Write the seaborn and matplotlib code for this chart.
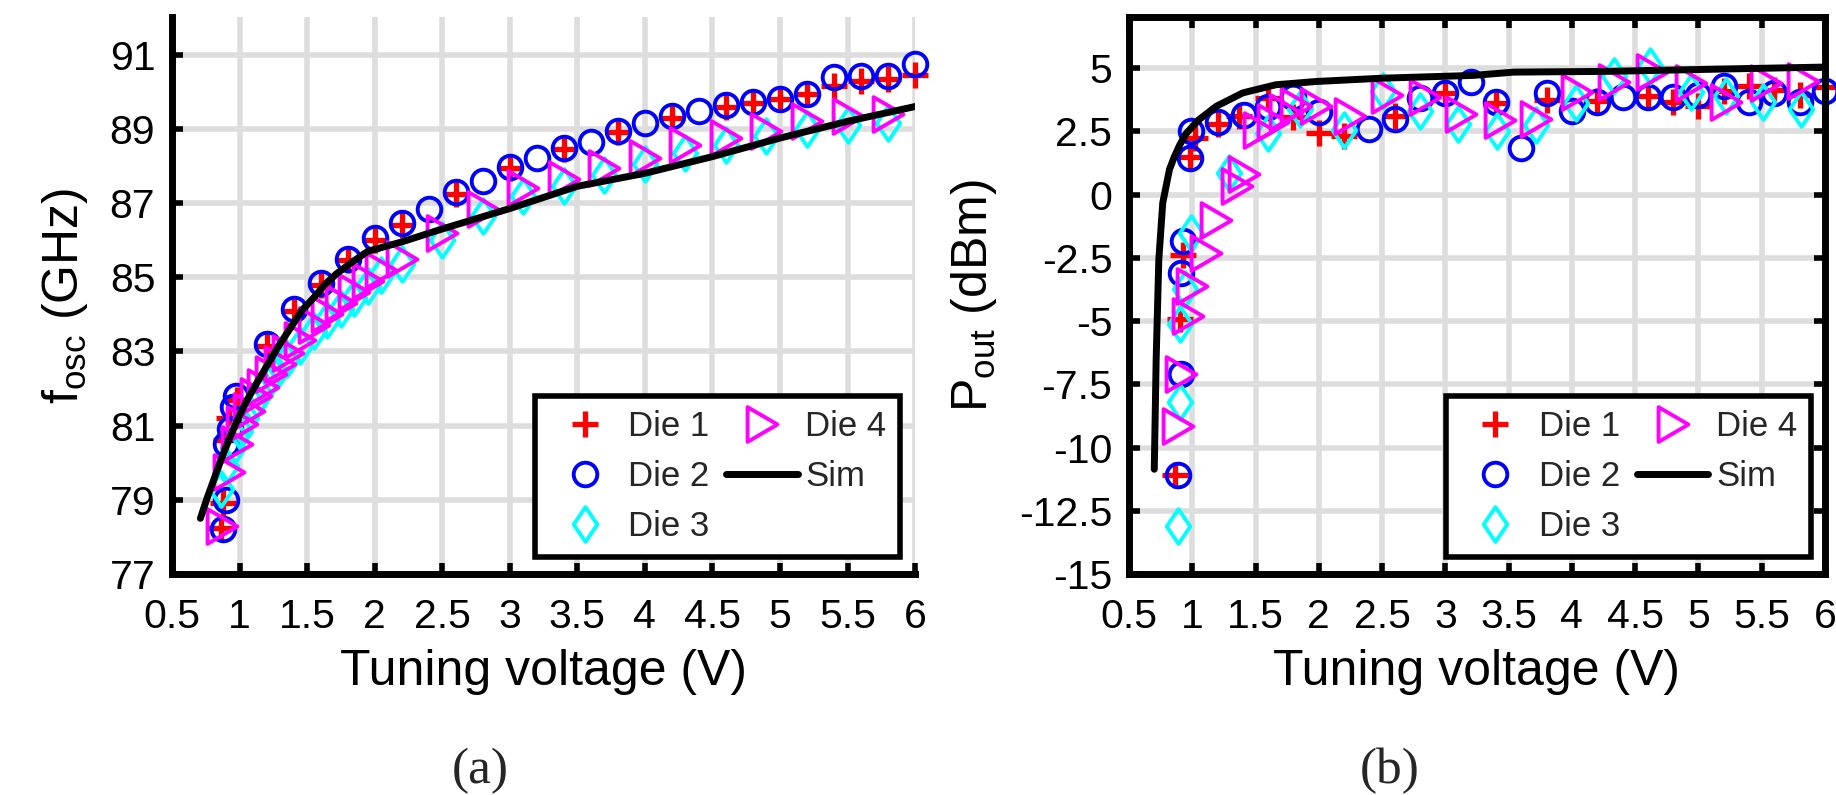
import numpy as np
import matplotlib
matplotlib.use('Agg')
import matplotlib.pyplot as plt
from matplotlib.path import Path
import seaborn as sns

# ---- (a) oscillation frequency vs tuning voltage ----
die1_v_a = [0.86, 0.88, 0.90, 0.92, 0.98, 1.2, 1.4, 1.6, 1.8, 2.0, 2.2, 2.6, 3.0, 3.4,
            3.8, 4.2, 4.6, 4.8, 5.0, 5.2, 5.4, 5.6, 5.8, 6.0]
die1_f_a = [78.25, 78.9, 80.6, 81.2, 81.7, 83.15, 84.1, 84.8, 85.45, 86.0, 86.4, 87.25, 87.95, 88.45,
            88.9, 89.3, 89.6, 89.7, 89.8, 89.95, 90.15, 90.3, 90.35, 90.45]

die2_v_a = [0.88, 0.90, 0.90, 0.93, 0.95, 0.97, 1.2, 1.4, 1.6, 1.8, 2.0, 2.2, 2.4, 2.6, 2.8, 3.0,
            3.2, 3.4, 3.6, 3.8, 4.0, 4.2, 4.4, 4.6, 4.8, 5.0, 5.2, 5.4, 5.6, 5.8, 6.0]
die2_f_a = [78.2, 79.0, 80.5, 80.9, 81.5, 81.8, 83.2, 84.15, 84.85, 85.5, 86.05, 86.45, 86.85, 87.3,
            87.6, 87.98, 88.2, 88.47, 88.65, 88.95, 89.15, 89.35, 89.48, 89.64, 89.72, 89.8, 89.95,
            90.4, 90.43, 90.43, 90.74]

die3_v_a = [0.86, 0.9, 0.95, 1.0, 1.05, 1.1, 1.15, 1.2, 1.27, 1.35, 1.45, 1.55, 1.65, 1.75, 1.85,
            1.95, 2.05, 2.2, 2.5, 2.8, 3.1, 3.4, 3.7, 4.0, 4.3, 4.6, 4.9, 5.2, 5.5, 5.8]
die3_f_a = [79.3, 79.9, 80.4, 80.85, 81.2, 81.55, 81.85, 82.15, 82.45, 82.8, 83.15, 83.55, 83.85,
            84.15, 84.45, 84.75, 85.05, 85.35, 86.0, 86.65, 87.2, 87.45, 87.75, 88.05, 88.35, 88.55,
            88.8, 89.0, 89.1, 89.15]

die4_v_a = [0.87, 0.92, 0.98, 1.02, 1.07, 1.12, 1.17, 1.23, 1.30, 1.36, 1.45, 1.55, 1.65, 1.75,
            1.85, 1.95, 2.05, 2.2, 2.5, 2.8, 3.1, 3.4, 3.7, 4.0, 4.3, 4.6, 4.9, 5.2, 5.5, 5.8]
die4_f_a = [78.3, 79.75, 80.5, 81.05, 81.4, 81.8, 82.05, 82.4, 82.65, 82.95, 83.3, 83.7, 84.0, 84.3,
            84.6, 84.9, 85.2, 85.5, 86.2, 86.85, 87.4, 87.65, 87.95, 88.2, 88.55, 88.75, 88.95,
            89.2, 89.35, 89.4]

sim_v_a = [0.71, 0.76, 0.81, 0.87, 0.93, 0.99, 1.05, 1.12, 1.2, 1.29, 1.38, 1.46, 1.55, 1.63, 1.72,
           1.83, 1.95, 2.2, 2.5, 3.0, 3.5, 4.0, 4.5, 5.0, 5.5, 6.0]
sim_f_a = [78.5, 79.05, 79.55, 80.15, 80.7, 81.2, 81.65, 82.1, 82.6, 83.15, 83.65, 84.1, 84.45, 84.8,
           85.1, 85.4, 85.7, 85.95, 86.3, 86.85, 87.45, 87.8, 88.25, 88.75, 89.2, 89.6]

# ---- (b) output power vs tuning voltage ----
die1_v_b = [0.86, 0.9, 0.93, 0.98, 1.02, 1.2, 1.37, 1.6, 1.8, 2.0, 2.2, 2.6, 3.0, 3.4, 3.8, 4.2,
            4.6, 4.8, 5.0, 5.2, 5.4, 5.6, 5.8, 6.0]
die1_p_b = [-11.1, -4.9, -2.4, 1.5, 2.25, 2.8, 3.1, 3.8, 3.05, 2.45, 2.3, 3.1, 4.0, 3.6, 3.75, 3.7,
            3.9, 3.65, 3.5, 4.1, 4.3, 4.15, 3.95, 4.25]

die2_v_b = [0.89, 0.91, 0.91, 0.93, 0.98, 0.99, 1.2, 1.41, 1.6, 1.8, 2.0, 2.4, 2.6, 2.8, 3.0, 3.2,
            3.4, 3.6, 3.8, 4.0, 4.2, 4.4, 4.6, 4.8, 5.0, 5.2, 5.4, 5.6, 5.8, 6.0]
die2_p_b = [-11.1, -7.1, -3.1, -1.85, 1.45, 2.5, 2.85, 3.15, 3.45, 3.85, 3.25, 2.6, 3.0, 3.8, 4.0,
            4.45, 3.65, 1.85, 4.0, 3.3, 3.65, 3.85, 3.85, 3.85, 3.95, 4.3, 3.65, 4.0, 3.65, 4.1]

die3_v_b = [0.89, 0.9, 0.9, 0.94, 0.99, 1.29, 1.6, 1.85, 2.2, 2.51, 2.8, 3.1, 3.41, 3.72, 4.03,
            4.33, 4.62, 4.94, 5.22, 5.51, 5.81]
die3_p_b = [-13.1, -8.2, -5.1, -3.75, -1.5, 0.85, 2.45, 3.4, 2.55, 4.1, 3.3, 2.8, 2.5, 2.75, 3.6,
            4.7, 5.1, 4.05, 3.9, 3.65, 3.4]

die4_v_b = [0.89, 0.91, 0.97, 1.0, 1.11, 1.19, 1.35, 1.41, 1.53, 1.64, 1.73, 1.82, 1.98, 2.25,
            2.54, 2.84, 3.12, 3.43, 3.72, 4.04, 4.33, 4.63, 4.94, 5.22, 5.53, 5.83]
die4_p_b = [-9.15, -7.1, -4.8, -3.6, -2.3, -1.0, 0.35, 0.8, 2.55, 2.85, 3.25, 3.5, 3.5, 3.1, 3.95,
            3.85, 3.2, 2.95, 3.0, 4.05, 4.45, 4.85, 4.4, 3.65, 4.4, 4.5]

sim_v_b = [0.70, 0.715, 0.736, 0.767, 0.82, 0.86, 0.9, 0.95, 1.05, 1.19, 1.40, 1.66, 1.98, 2.5,
           3.22, 3.54, 4.28, 5.07, 6.0]
sim_p_b = [-10.86, -6.5, -2.56, -0.33, 0.99, 1.51, 1.95, 2.4, 2.95, 3.49, 4.02, 4.34, 4.47, 4.6,
           4.71, 4.84, 4.87, 4.95, 5.04]

x_ticks = [0.5, 1, 1.5, 2, 2.5, 3, 3.5, 4, 4.5, 5, 5.5, 6]
y_ticks_a = [77, 79, 81, 83, 85, 87, 89, 91]
y_ticks_b = [-15, -12.5, -10, -7.5, -5, -2.5, 0, 2.5, 5]


def fmt(t):
    return ('%g' % t)


sns.set_theme(style='whitegrid')
plt.rcParams['font.family'] = ['Liberation Sans', 'DejaVu Sans']
plt.rcParams['mathtext.fontset'] = 'custom'
plt.rcParams['mathtext.rm'] = 'Liberation Sans'
plt.rcParams['mathtext.it'] = 'Liberation Sans:italic'
plt.rcParams['axes.unicode_minus'] = False

# MATLAB-like hollow markers
diamond = Path([(0, 0.5), (0.34, 0), (0, -0.5), (-0.34, 0), (0, 0.5)], closed=True)
tri_right = Path([(-0.43, 0.5), (0.43, 0), (-0.43, -0.5), (-0.43, 0.5)], closed=True)

styles = [
    ('Die 1', dict(marker='+', color='#ff0000', markersize=19, markeredgewidth=3.8)),
    ('Die 2', dict(marker='o', color='#0000ff', markersize=17, markeredgewidth=2.8)),
    ('Die 3', dict(marker=diamond, color='#00ffff', markersize=25, markeredgewidth=2.8)),
    ('Die 4', dict(marker=tri_right, color='#ff00ff', markersize=25, markeredgewidth=2.8)),
]


def draw_panel(ax, series, sim_v, sim_y):
    for (name, st), (v, y) in zip(styles, series):
        sns.lineplot(x=v, y=y, ax=ax, estimator=None, sort=False, linestyle='',
                     marker=st['marker'], markersize=st['markersize'],
                     markeredgewidth=st['markeredgewidth'], markeredgecolor=st['color'],
                     markerfacecolor='none', color=st['color'], label=name, clip_on=False)
    sns.lineplot(x=sim_v, y=sim_y, ax=ax, estimator=None, sort=False, color='black',
                 linewidth=5, label='Sim')

    ax.grid(True, color='#dddddd', linewidth=4)
    ax.set_axisbelow(True)
    ax.set_xlim(0.5, 6)
    ax.set_xticks(x_ticks)
    ax.set_xticklabels([fmt(t) for t in x_ticks])
    ax.tick_params(axis='both', direction='in', length=8, width=4, color='black',
                   labelsize=29.5, labelcolor='black')
    ax.tick_params(axis='x', bottom=True, pad=17)
    ax.tick_params(axis='y', left=True, pad=12)
    for sp in ax.spines.values():
        sp.set_color('black')
        sp.set_linewidth(5)
    ax.set_xlabel('Tuning voltage (V)', fontsize=36, color='black', labelpad=10)

    leg = ax.legend(ncol=2, loc='lower right', bbox_to_anchor=(0.98, 0.03), borderaxespad=0,
                    fontsize=25, handlelength=2.05, handletextpad=0.22, columnspacing=0.5,
                    labelspacing=0.5, borderpad=0.4, fancybox=False, framealpha=1)
    leg.get_frame().set_edgecolor('black')
    leg.get_frame().set_linewidth(4)


fig = plt.figure(figsize=(18.36, 7.95), dpi=100)
ax1 = fig.add_axes([0.0937, 0.278, 0.4047, 0.700])
ax2 = fig.add_axes([0.6149, 0.278, 0.3791, 0.700])

draw_panel(ax1, [(die1_v_a, die1_f_a), (die2_v_a, die2_f_a), (die3_v_a, die3_f_a), (die4_v_a, die4_f_a)],
           sim_v_a, sim_f_a)
ax1.set_ylim(77, 92)
ax1.set_yticks(y_ticks_a)
ax1.set_yticklabels([fmt(t) for t in y_ticks_a])
ax1.spines['top'].set_visible(False)
ax1.spines['right'].set_visible(False)
ax1.set_ylabel(r'f$_{\rm osc}$ (GHz)', fontsize=36, color='black', labelpad=14)

draw_panel(ax2, [(die1_v_b, die1_p_b), (die2_v_b, die2_p_b), (die3_v_b, die3_p_b), (die4_v_b, die4_p_b)],
           sim_v_b, sim_p_b)
ax2.set_ylim(-15, 7)
ax2.set_yticks(y_ticks_b)
ax2.set_yticklabels([fmt(t) for t in y_ticks_b])
ax2.tick_params(top=True, right=True, labeltop=False, labelright=False)
ax2.set_ylabel(r'P$_{\rm out}$ (dBm)', fontsize=36, color='black', labelpad=14)

fig.text(0.2614, 0.03, '(a)', fontsize=37, family='Liberation Serif', ha='center', va='center')
fig.text(0.757, 0.03, '(b)', fontsize=37, family='Liberation Serif', ha='center', va='center')

fig.savefig('out.png', dpi=100, facecolor='white')
